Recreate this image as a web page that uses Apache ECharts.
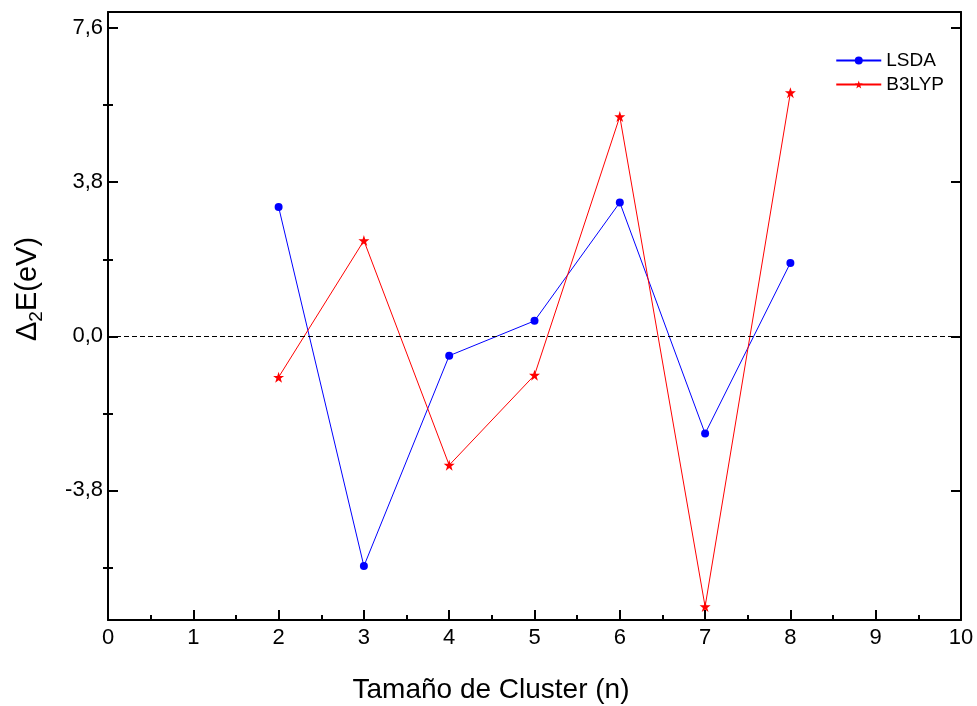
<!DOCTYPE html>
<html>
<head>
<meta charset="utf-8">
<script src="https://cdn.jsdelivr.net/npm/echarts@6/dist/echarts.min.js"></script>
<style>
html,body{margin:0;padding:0;background:#fff;}
#c{width:977px;height:706px;}
</style>
</head>
<body>
<div id="c"></div>
<script>
const clusterSize = [2, 3, 4, 5, 6, 7, 8];
const lsda = [3.19, -5.67, -0.48, 0.38, 3.30, -2.40, 1.81];
const b3lyp = [-1.01, 2.36, -3.18, -0.96, 5.42, -6.67, 6.01];
const yMajorTicks = [-3.8, 0, 3.8, 7.6];
const yMinorTicks = [-5.7, -1.9, 1.9, 5.7];
const xTickLabels = [0, 1, 2, 3, 4, 5, 6, 7, 8, 9, 10];

const font = 'Liberation Sans, Arial, sans-serif';
const chart = echarts.init(document.getElementById('c'));
const fmt = v => (v === 0 ? '0,0' : String(v).replace('.', ','));
const yBase = {
  type: 'value', min: -7, max: 8,
  splitLine: {show: false},
  axisLine: {show: true, onZero: false, lineStyle: {color: '#000', width: 2}}
};
chart.setOption({
  animation: false,
  grid: {left: 108, right: 16, top: 12, bottom: 86, containLabel: false},
  legend: {
    orient: 'vertical', right: 28, top: 46, itemWidth: 45, itemHeight: 10, itemGap: 5,
    textStyle: {fontFamily: font, fontSize: 19, color: '#000'},
    data: ['LSDA', 'B3LYP']
  },
  xAxis: [{
    type: 'value', min: 0, max: 10, interval: 1, position: 'bottom',
    axisLine: {show: true, onZero: false, lineStyle: {color: '#000', width: 2}},
    axisTick: {show: true, inside: true, length: 10, lineStyle: {color: '#000', width: 2}},
    minorTick: {show: true, splitNumber: 2, length: 5, lineStyle: {color: '#000', width: 2}},
    splitLine: {show: false},
    axisLabel: {show: true, margin: 7, fontFamily: font, fontSize: 22, color: '#000',
      customValues: xTickLabels}
  }, {
    type: 'value', min: 0, max: 10, position: 'top',
    axisLine: {show: true, onZero: false, lineStyle: {color: '#000', width: 2}},
    axisTick: {show: false}, axisLabel: {show: false}, splitLine: {show: false}
  }],
  yAxis: [
    Object.assign({}, yBase, {
      position: 'left',
      axisTick: {show: true, inside: true, length: 10, customValues: yMajorTicks, lineStyle: {color: '#000', width: 2}},
      axisLabel: {show: true, margin: 5, fontFamily: font, fontSize: 22, color: '#000',
        customValues: yMajorTicks, formatter: fmt}
    }),
    Object.assign({}, yBase, {
      position: 'left',
      axisLine: {show: false},
      axisTick: {show: true, inside: true, length: 5, customValues: yMinorTicks, lineStyle: {color: '#000', width: 2}},
      axisLabel: {show: false}
    }),
    Object.assign({}, yBase, {
      position: 'right',
      axisTick: {show: true, inside: true, length: 10, customValues: yMajorTicks, lineStyle: {color: '#000', width: 2}},
      axisLabel: {show: false}
    }),
    Object.assign({}, yBase, {
      position: 'right',
      axisLine: {show: false},
      axisTick: {show: true, inside: true, length: 5, customValues: yMinorTicks, lineStyle: {color: '#000', width: 2}},
      axisLabel: {show: false}
    })
  ],
  graphic: [{
    type: 'text', x: 28, y: 289, rotation: Math.PI / 2,
    style: {
      text: '{a|Δ}{s|2}{a|E(eV)}',
      align: 'center', verticalAlign: 'middle',
      rich: {
        a: {fontFamily: font, fontSize: 29, fill: '#000', lineHeight: 36, verticalAlign: 'middle'},
        s: {fontFamily: font, fontSize: 19, fill: '#000', lineHeight: 36, verticalAlign: 'bottom', padding: [13, 0, 0, 0]}
      }
    }
  }, {
    type: 'text', x: 491, y: 690,
    style: {text: 'Tamaño de Cluster (n)', align: 'center', verticalAlign: 'middle',
      fontFamily: font, fontSize: 28, fill: '#000'}
  }],
  series: [{
    name: 'LSDA', type: 'line',
    data: clusterSize.map((x, i) => [x, lsda[i]]),
    symbol: 'circle', symbolSize: 8,
    lineStyle: {color: '#0000ff', width: 1},
    itemStyle: {color: '#0000ff'},
    markLine: {
      silent: true, symbol: 'none', label: {show: false},
      lineStyle: {color: '#000', type: [5, 3], width: 1},
      data: [{yAxis: 0}]
    }
  }, {
    name: 'B3LYP', type: 'line',
    data: clusterSize.map((x, i) => [x, b3lyp[i]]),
    symbol: 'path://M50,0 L61.8,35.3 L99,35.3 L69,57.3 L80.3,92.7 L50,71 L19.7,92.7 L31,57.3 L1,35.3 L38.2,35.3 Z',
    symbolSize: 11,
    lineStyle: {color: '#ff0000', width: 1},
    itemStyle: {color: '#ff0000'}
  }]
});
</script>
</body>
</html>
